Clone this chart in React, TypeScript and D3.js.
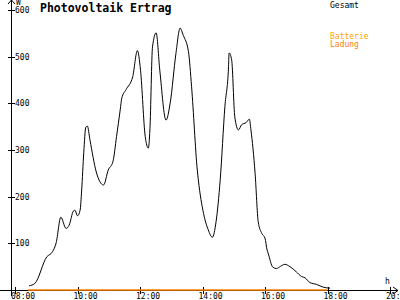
import React from "react";
import * as d3 from "d3";

const pvTimes = [
  "08:27","08:38","09:01","09:12","09:19","09:28","09:38","09:44","09:52","09:55",
  "10:00","10:05","10:08","10:12","10:16","10:19","10:24","10:36","10:50","10:59",
  "11:08","11:15","11:22","11:25","11:33","11:46","11:55","12:01","12:10","12:16",
  "12:19","12:24","12:31","12:38","12:50","12:58","13:09","13:17","13:23","13:33",
  "13:39","13:50","13:52","14:02","14:11","14:19","14:26","14:34","14:43","14:50",
  "14:51","14:56","15:02","15:09","15:15","15:24","15:30","15:33","15:41","15:47",
  "15:54","16:00","16:04","16:06","16:15","16:22","16:30","16:38","16:48","17:00",
  "17:10","17:17","17:26","17:39","17:52","18:05"
];
const pvValues = [
  9,14,71,82,101,156,132,139,169,171,
  159,171,214,294,349,351,321,253,225,257,
  275,329,386,411,429,457,513,471,329,304,
  343,521,551,471,364,401,507,561,546,511,
  436,257,236,164,129,113,146,236,393,479,
  508,493,371,343,354,359,366,343,250,146,
  121,111,86,79,49,46,51,55,50,39,
  29,26,16,12,6,4
];
const batteryTimes = ["08:25", "18:00"];
const batteryValues = [0, 0];
const xTickLabels = ["08:00","10:00","12:00","14:00","16:00","18:00","20:00"];
const yTickValues = [100, 200, 300, 400, 500, 600];
const legendLabels = ["Gesamt", "Batterie", "Ladung"];

const toH = (s: string) => {
  const [h, m] = s.split(":").map(Number);
  return h + m / 60;
};

export default function App() {
  const W = 400, H = 300;
  const x = d3.scaleLinear().domain([8, 20]).range([15, 390]);
  const y = d3.scaleLinear().domain([0, 600]).range([290, 10]);
  const pv = pvTimes.map((t, i) => [toH(t), pvValues[i]] as [number, number]);
  const bat = batteryTimes.map((t, i) => [toH(t), batteryValues[i]] as [number, number]);
  const line = d3.line<[number, number]>().x(d => x(d[0])).y(d => y(d[1]));
  const smooth = d3.line<[number, number]>().x(d => x(d[0])).y(d => y(d[1])).curve(d3.curveMonotoneX);
  const font = "'DejaVu Sans Mono', monospace";
  const y0 = y(0);
  const ax = 11;
  return (
    <svg width={W} height={H} style={{ position: "absolute", left: 0, top: 0, background: "#fff" }}>
      <rect width={W} height={H} fill="#fff" />
      {/* axes */}
      <g stroke="#000" strokeWidth={1} shapeRendering="crispEdges">
        <line x1={0} x2={398} y1={y0 + 0.5} y2={y0 + 0.5} />
        <line x1={ax + 0.5} x2={ax + 0.5} y1={0} y2={296} />
        {yTickValues.map(v => (
          <line key={v} x1={8} x2={15} y1={Math.round(y(v)) + 0.5} y2={Math.round(y(v)) + 0.5} />
        ))}
        {xTickLabels.map(t => (
          <line key={t} x1={Math.round(x(toH(t))) + 0.5} x2={Math.round(x(toH(t))) + 0.5} y1={287} y2={294} />
        ))}
      </g>
      <path d={`M${ax - 3},${4} L${ax + 0.5},0 L${ax + 4},${4}`} fill="none" stroke="#000" strokeWidth={1} />
      <path d={`M393,${y0 - 3} L398,${y0 + 0.5} L393,${y0 + 4}`} fill="none" stroke="#000" strokeWidth={1} />
      {/* battery line */}
      <path d={line(bat) ?? ""} fill="none" stroke="#ff8000" strokeWidth={1.5} />
      {/* pv line */}
      <path d={smooth(pv) ?? ""} fill="none" stroke="#000" strokeWidth={1} />
      {/* labels */}
      <g fontFamily={font} fontSize={8} fill="#000">
        {yTickValues.map(v => (
          <text key={v} x={15} y={y(v) + 3}>{v}</text>
        ))}
        {xTickLabels.map(t => (
          <text key={t} x={x(toH(t)) - 4} y={299}>{t}</text>
        ))}
        <text x={16} y={5}>W</text>
        <text x={385} y={284}>h</text>
        <text x={330} y={8}>{legendLabels[0]}</text>
        <text x={330} y={39} fill="#ffa500">{legendLabels[1]}</text>
        <text x={330} y={47} fill="#ff8000">{legendLabels[2]}</text>
      </g>
      <text x={40} y={12} fontFamily={font} fontSize={11.5} fontWeight="bold" fill="#000">Photovoltaik Ertrag</text>
    </svg>
  );
}
